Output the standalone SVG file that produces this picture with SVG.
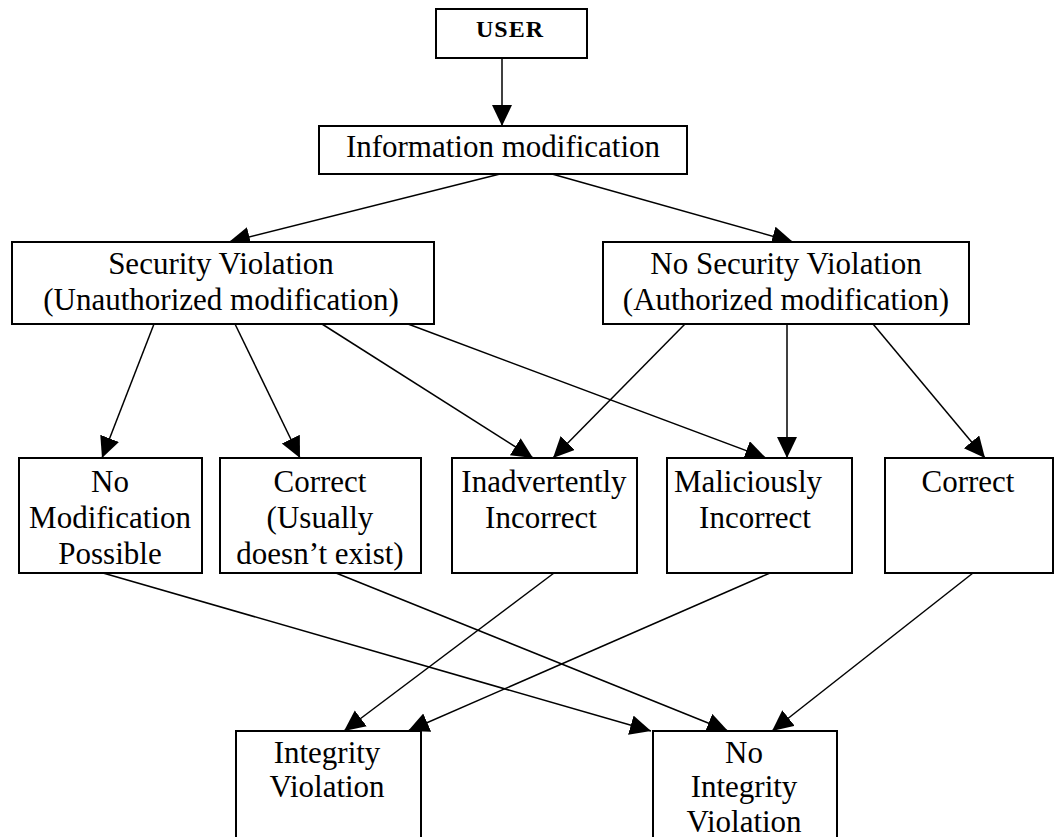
<svg xmlns="http://www.w3.org/2000/svg" width="1057" height="837" viewBox="0 0 1057 837">
  <defs>
    <style>
      .box { fill: #ffffff; stroke: #000000; stroke-width: 2; }
      .lbl { font-family: "Liberation Serif", "Times New Roman", serif; font-size: 31px; fill: #000000; text-anchor: middle; }
      .bold { font-weight: bold; font-size: 24px; letter-spacing: 1px; }
      .edge { stroke: #000000; stroke-width: 1.5; fill: none; marker-end: url(#ah); }
    </style>
    <marker id="ah" markerUnits="userSpaceOnUse" markerWidth="24" markerHeight="22" refX="21" refY="10" orient="auto">
      <path d="M0,0 L21,10 L0,20 z" fill="#000000"/>
    </marker>
  </defs>
  <rect width="1057" height="837" fill="#ffffff"/>

  <!-- connectors -->
  <g id="connectors">
    <line class="edge" x1="502" y1="58" x2="502" y2="126"/>
    <line class="edge" x1="500" y1="174" x2="229" y2="242"/>
    <line class="edge" x1="552" y1="174" x2="793" y2="242"/>
    <line class="edge" x1="154" y1="324" x2="102" y2="458"/>
    <line class="edge" x1="235" y1="324" x2="300" y2="458"/>
    <line class="edge" x1="322" y1="324" x2="533" y2="458"/>
    <line class="edge" x1="408" y1="324" x2="766" y2="458"/>
    <line class="edge" x1="685" y1="324" x2="553" y2="458"/>
    <line class="edge" x1="787" y1="324" x2="787" y2="458"/>
    <line class="edge" x1="873" y1="324" x2="985" y2="458"/>
    <line class="edge" x1="103" y1="573" x2="651" y2="731"/>
    <line class="edge" x1="336" y1="573" x2="728" y2="731"/>
    <line class="edge" x1="554" y1="573" x2="344" y2="731"/>
    <line class="edge" x1="770" y1="573" x2="408" y2="731"/>
    <line class="edge" x1="973" y1="573" x2="772" y2="731"/>
  </g>

  <g id="user">
    <rect class="box" x="436" y="9" width="151" height="49"/>
    <text class="lbl bold" x="510" y="37">USER</text>
  </g>

  <g id="info-mod">
    <rect class="box" x="319" y="126" width="368" height="48"/>
    <text class="lbl" x="503" y="157">Information modification</text>
  </g>

  <g id="security-violation">
    <rect class="box" x="12" y="242" width="422" height="82"/>
    <text class="lbl" x="221" y="274">Security Violation</text>
    <text class="lbl" x="221" y="310">(Unauthorized modification)</text>
  </g>

  <g id="no-security-violation">
    <rect class="box" x="603" y="242" width="366" height="82"/>
    <text class="lbl" x="786" y="274">No Security Violation</text>
    <text class="lbl" x="786" y="310">(Authorized modification)</text>
  </g>

  <g id="no-modification">
    <rect class="box" x="19" y="458" width="183" height="115"/>
    <text class="lbl" x="110" y="492">No</text>
    <text class="lbl" x="110" y="528">Modification</text>
    <text class="lbl" x="110" y="564">Possible</text>
  </g>

  <g id="correct-unauthorized">
    <rect class="box" x="220" y="458" width="201" height="115"/>
    <text class="lbl" x="320" y="492">Correct</text>
    <text class="lbl" x="320" y="528">(Usually</text>
    <text class="lbl" x="320" y="564">doesn’t exist)</text>
  </g>

  <g id="inadvertently-incorrect">
    <rect class="box" x="452" y="458" width="185" height="115"/>
    <text class="lbl" x="544" y="492">Inadvertently</text>
    <text class="lbl" x="541" y="528">Incorrect</text>
  </g>

  <g id="maliciously-incorrect">
    <rect class="box" x="667" y="458" width="185" height="115"/>
    <text class="lbl" x="748" y="492">Maliciously</text>
    <text class="lbl" x="755" y="528">Incorrect</text>
  </g>

  <g id="correct-authorized">
    <rect class="box" x="885" y="458" width="168" height="115"/>
    <text class="lbl" x="968" y="492">Correct</text>
  </g>

  <g id="integrity-violation">
    <rect class="box" x="236" y="731" width="185" height="120"/>
    <text class="lbl" x="327" y="763">Integrity</text>
    <text class="lbl" x="327" y="797">Violation</text>
  </g>

  <g id="no-integrity-violation">
    <rect class="box" x="653" y="731" width="184" height="120"/>
    <text class="lbl" x="744" y="763">No</text>
    <text class="lbl" x="744" y="797">Integrity</text>
    <text class="lbl" x="744" y="832">Violation</text>
  </g>
</svg>
